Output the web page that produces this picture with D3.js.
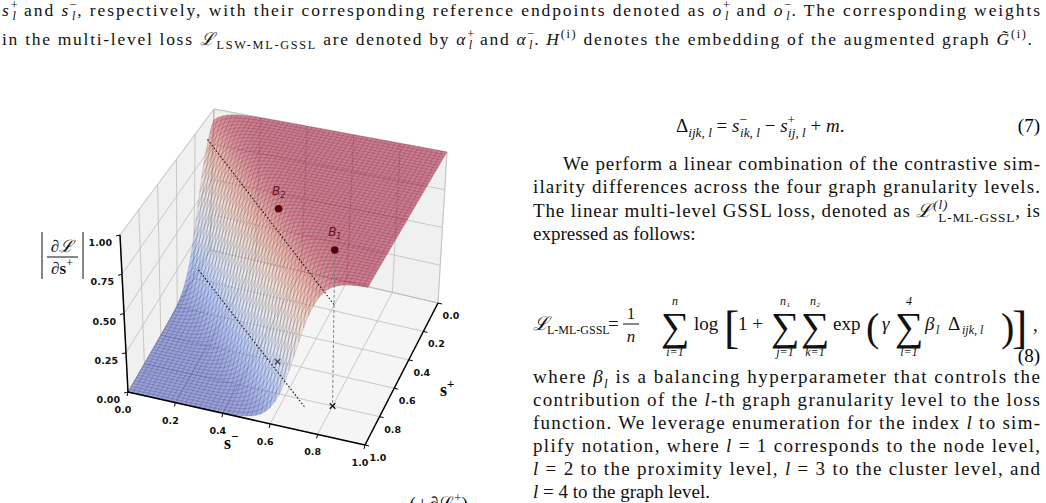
<!DOCTYPE html>
<html>
<head>
<meta charset="utf-8">
<script src="https://cdn.jsdelivr.net/npm/d3@7"></script>
<style>
body{margin:0;background:#fff;}
svg{display:block;}
.tick{font-family:"DejaVu Sans",sans-serif;font-weight:bold;font-size:9.5px;fill:#111;}
</style>
</head>
<body>
<svg id="page" width="1046" height="503"></svg>
<script>
var SERIF = "Liberation Serif, Times New Roman, serif";
// axis ticks
var sMinusTicks = [0, 0.2, 0.4, 0.6, 0.8, 1.0];
var sPlusTicks = [0, 0.2, 0.4, 0.6, 0.8, 1.0];
var zTicks = [0, 0.25, 0.5, 0.75, 1.0];
// surface: |dL/ds+| as sigmoid across the ridge
var gridN = 50;
var margin = 0.15, slope = 1.2, width = 0.06;
// marked points (s-, s+, value)
var pointNames = ["B1", "B2"];
var pointSm = [0.8, 0.5];
var pointSp = [0.8, 0.6];
var pointZ = [1.0, 1.0];
// dotted guide lines
var guideSm = [[0.06, 0.8], [0.0, 0.7]];
var guideSp = [[0.22, 0.8], [0.14, 0.85]];
var guideZ = [[1.0, 0.65], [0.0, 0.0]];

var svg = d3.select("#page");

// ---- 3d projection (floor + roof corners of the box) ----
var sx = d3.scaleLinear().domain([0, 1]).range([0, 1]);
var sy = d3.scaleLinear().domain([0, 1]).range([0, 1]);
var sz = d3.scaleLinear().domain([0, 1]).range([0, 1]);
var floorC = {B:[210,250], R:[438,303], L:[128,392], F:[365,445]};
var topC = {B:[214,109], R:[447,152], L:[120,235], F:[368,287]};
function proj(a, b, z){
  a = sx(a); b = sy(b); z = sz(z);
  var w = {B:(1-a)*(1-b), R:a*(1-b), L:(1-a)*b, F:a*b};
  var f = [0,0], t = [0,0];
  for (var k in w){ f[0]+=w[k]*floorC[k][0]; f[1]+=w[k]*floorC[k][1]; t[0]+=w[k]*topC[k][0]; t[1]+=w[k]*topC[k][1]; }
  return [f[0]+z*(t[0]-f[0]), f[1]+z*(t[1]-f[1])];
}
var line3 = d3.line();
function poly(pts){ return line3(pts.map(function(p){return proj(p[0],p[1],p[2]);})) + "Z"; }

var chart = svg.append("g");

// panes
chart.append("path").attr("d", poly([[0,0,0],[0,1,0],[0,1,1],[0,0,1]])).attr("fill","#f0f0f0").attr("stroke","#ddd");
chart.append("path").attr("d", poly([[0,0,0],[1,0,0],[1,0,1],[0,0,1]])).attr("fill","#f0f0f0").attr("stroke","#ddd");
chart.append("path").attr("d", poly([[0,0,0],[1,0,0],[1,1,0],[0,1,0]])).attr("fill","#f5f5f5").attr("stroke","#ddd");

// grid
var gridG = chart.append("g").attr("stroke","#bdbdbd").attr("stroke-width",0.8).attr("fill","none");
sMinusTicks.forEach(function(t){
  gridG.append("path").attr("d", line3([proj(t,0,0),proj(t,1,0)]));
  gridG.append("path").attr("d", line3([proj(t,0,0),proj(t,0,1)]));
});
sPlusTicks.forEach(function(t){
  gridG.append("path").attr("d", line3([proj(0,t,0),proj(1,t,0)]));
  gridG.append("path").attr("d", line3([proj(0,t,0),proj(0,t,1)]));
});
zTicks.forEach(function(t){
  gridG.append("path").attr("d", line3([proj(0,1,t),proj(0,0,t),proj(1,0,t)]));
});

// surface
function surf(a, b){ return 1/(1+Math.exp(-(slope*a - b + margin)/width)); }
var cool = d3.scaleLinear()
  .domain([0, 0.17, 0.34, 0.5, 0.66, 0.83, 1])
  .range(["#3b4cc0","#7b9ff9","#c0d4f5","#dddddd","#f2cbb7","#ee8468","#b40426"]);
var quads = [];
for (var i = 0; i < gridN; i++){
  for (var j = 0; j < gridN; j++){
    var a0 = i/gridN, a1 = (i+1)/gridN, b0 = j/gridN, b1 = (j+1)/gridN;
    var zs = [surf(a0,b0), surf(a1,b0), surf(a1,b1), surf(a0,b1)];
    var zm = d3.mean(zs);
    quads.push({pts:[[a0,b0,zs[0]],[a1,b0,zs[1]],[a1,b1,zs[2]],[a0,b1,zs[3]]], z:zm, key:(a0+a1+b0+b1)/2 + 0.6*zm});
  }
}
quads.sort(function(p, q){ return p.key - q.key; });
chart.append("g").selectAll("path").data(quads).join("path")
  .attr("d", function(d){ return poly(d.pts); })
  .attr("fill", function(d){ return cool(d.z); })
  .attr("fill-opacity", 0.5)
  .attr("stroke", "rgba(40,30,60,0.3)")
  .attr("stroke-width", 0.45);

// guides
guideSm.forEach(function(g, k){
  chart.append("path")
    .attr("d", line3([proj(g[0],guideSp[k][0],guideZ[k][0]), proj(g[1],guideSp[k][1],guideZ[k][1])]))
    .attr("stroke","#111").attr("stroke-width",1.1).attr("stroke-dasharray","1.5,2").attr("fill","none");
});
// points, drops and crosses
pointNames.forEach(function(n, k){
  var top = proj(pointSm[k], pointSp[k], pointZ[k]);
  var bot = proj(pointSm[k], pointSp[k], 0);
  if (k === 0) chart.append("path").attr("d", line3([top, bot]))
    .attr("stroke","#777").attr("stroke-width",0.9).attr("stroke-dasharray","3,2");
  chart.append("path").attr("d", d3.symbol(d3.symbolX, 22)())
    .attr("transform","translate("+bot+")").attr("stroke", k===0 ? "#111" : "#3a4466").attr("stroke-width",1.3);
  chart.append("circle").attr("cx",top[0]).attr("cy",top[1]).attr("r",3.8).attr("fill","#5a0008");
  var lab = chart.append("text").attr("x",top[0]).attr("y",top[1]-14).attr("text-anchor","middle")
    .attr("font-family","DejaVu Sans, sans-serif").attr("font-size",12).attr("font-style","italic").attr("fill","#6b1020");
  lab.append("tspan").text("B");
  lab.append("tspan").attr("font-size",8).attr("dy",3).text(n.slice(1));
});

// axes
var axG = chart.append("g").attr("stroke","#000").attr("stroke-width",1.5).attr("fill","none");
axG.append("path").attr("d", line3([proj(0,1,0),proj(0,1,1)]));
axG.append("path").attr("d", line3([proj(0,1,0),proj(1,1,0)]));
axG.append("path").attr("d", line3([proj(1,0,0),proj(1,1,0)]));
sMinusTicks.forEach(function(t){
  var p = proj(t,1,0);
  axG.append("path").attr("d", line3([p,[p[0]-1,p[1]+4]])).attr("stroke-width",1);
  chart.append("text").attr("class","tick").attr("x",p[0]-5).attr("y",p[1]+21).attr("text-anchor","middle").text(t.toFixed(1));
});
sPlusTicks.forEach(function(t){
  var p = proj(1,t,0);
  axG.append("path").attr("d", line3([p,[p[0]+4,p[1]+1]])).attr("stroke-width",1);
  chart.append("text").attr("class","tick").attr("x",p[0]+13).attr("y",p[1]+16).attr("text-anchor","middle").text(t.toFixed(1));
});
zTicks.forEach(function(t){
  var p = proj(0,1,t);
  axG.append("path").attr("d", line3([p,[p[0]-4,p[1]+1]])).attr("stroke-width",1);
  chart.append("text").attr("class","tick").attr("x",p[0]-8).attr("y",p[1]+11).attr("text-anchor","end").text(t.toFixed(2));
});
// axis labels
var sm = chart.append("text").attr("font-family",SERIF).attr("x",224).attr("y",449).attr("font-size",18).attr("font-weight","bold");
sm.append("tspan").text("s");
sm.append("tspan").attr("dy",-8).attr("font-size",13).text("\u2212");
var sp = chart.append("text").attr("font-family",SERIF).attr("x",440).attr("y",396).attr("font-size",18).attr("font-weight","bold");
sp.append("tspan").text("s");
sp.append("tspan").attr("dy",-8).attr("font-size",13).text("+");
var zl = chart.append("g").attr("font-family",SERIF).attr("fill","#111");
zl.append("text").attr("x",62).attr("y",252).attr("text-anchor","middle").attr("font-size",17).attr("font-style","italic").text("\u2202\u2112");
zl.append("line").attr("x1",47).attr("x2",78).attr("y1",257).attr("y2",257).attr("stroke","#111");
var zd = zl.append("text").attr("x",62).attr("y",274).attr("text-anchor","middle").attr("font-size",17);
zd.append("tspan").attr("font-style","italic").text("\u2202");
zd.append("tspan").attr("font-weight","bold").text("s");
zd.append("tspan").attr("dy",-7).attr("font-size",12).text("+");
zl.append("line").attr("x1",42).attr("x2",42).attr("y1",232).attr("y2",279).attr("stroke","#111");
zl.append("line").attr("x1",83).attr("x2",83).attr("y1",232).attr("y2",279).attr("stroke","#111");

// ---- page text ----
// segs: string, or {t, i:italic, sub, sup, back:dx}
function mathLine(x, y, segs, size, justifyTo){
  var t = svg.append("text").attr("font-family",SERIF).attr("fill","#111").attr("x",x).attr("y",y).attr("font-size",size);
  var level = 0;
  segs.forEach(function(s){
    if (typeof s === "string") s = {t:s};
    var target = s.sub ? size*0.25 : s.sup ? -size*0.4 : 0;
    var ts = t.append("tspan").text(s.t).attr("dy", target - level);
    if (s.back) ts.attr("dx", -s.back);
    if (s.i) ts.attr("font-style","italic");
    if (s.sub || s.sup) ts.attr("font-size", size*0.7);
    level = target;
  });
  if (justifyTo) t.attr("textLength", justifyTo - x).attr("lengthAdjust","spacing");
  return t;
}
var topSize = 17.5;
mathLine(2, 16, [{t:"s",i:1},{t:"+",sup:1},{t:"l",i:1,sub:1,back:7}," and ",{t:"s",i:1},{t:"\u2212",sup:1},{t:"l",i:1,sub:1,back:7},
  ", respectively, with their corresponding reference endpoints denoted as ",{t:"o",i:1},{t:"+",sup:1},{t:"l",i:1,sub:1,back:7},
  " and ",{t:"o",i:1},{t:"\u2212",sup:1},{t:"l",i:1,sub:1,back:7},". The corresponding weights"], topSize, 1040);
mathLine(2, 45, ["in the multi-level loss ",{t:"\u2112",i:1},{t:"LSW-ML-GSSL",sub:1}," are denoted by ",{t:"\u03b1",i:1},{t:"+",sup:1},{t:"l",i:1,sub:1,back:7},
  " and ",{t:"\u03b1",i:1},{t:"\u2212",sup:1},{t:"l",i:1,sub:1,back:7},". ",{t:"H",i:1},{t:"(i)",sup:1}," denotes the embedding of the augmented graph ",
  {t:"G\u0303",i:1},{t:"(i)",sup:1},"."], topSize, 1032);

var fs = 19;
mathLine(676, 132, [{t:"\u0394"},{t:"ijk, l",i:1,sub:1}," = ",{t:"s",i:1},{t:"\u2212",sup:1},{t:"ik, l",i:1,sub:1,back:7}," \u2212 ",
  {t:"s",i:1},{t:"+",sup:1},{t:"ij, l",i:1,sub:1,back:7}," + ",{t:"m",i:1},"."], fs);
svg.append("text").attr("font-family",SERIF).attr("x",1040).attr("y",132).attr("text-anchor","end").attr("font-size",fs).text("(7)");
mathLine(563, 170, ["We perform a linear combination of the contrastive sim-"], fs, 1040);
mathLine(533, 193, ["ilarity differences across the four graph granularity levels."], fs, 1040);
mathLine(533, 217, ["The linear multi-level GSSL loss, denoted as ",{t:"\u2112",i:1},{t:"(l)",i:1,sup:1},{t:"L-ML-GSSL",sub:1,back:10},", is"], fs, 1040);
mathLine(533, 240, ["expressed as follows:"], fs);

// eq 8
var eq = svg.append("g").attr("font-family",SERIF).attr("fill","#111");
function tx(x, y, s, size, opts){
  var t = eq.append("text").attr("x",x).attr("y",y).attr("font-size",size).text(s);
  if (opts && opts.i) t.attr("font-style","italic");
  if (opts && opts.mid) t.attr("text-anchor","middle");
  return t;
}
tx(533, 330, "\u2112", fs, {i:1}); tx(547, 334, "L-ML-GSSL", 12);
tx(608, 330, "=", fs);
tx(631, 319, "1", 16, {mid:1}); eq.append("line").attr("x1",623).attr("x2",639).attr("y1",324).attr("y2",324).attr("stroke","#111");
tx(631, 342, "n", 17, {i:1, mid:1});
[[675,"n","i=1"],[785,"n\u2081","j=1"],[815,"n\u2082","k=1"],[909,"4","l=1"]].forEach(function(s){
  tx(s[0], 340, "\u2211", 40, {mid:1}); tx(s[0], 305, s[1], 12, {i:1, mid:1}); tx(s[0], 356, s[2], 12, {i:1, mid:1});
});
tx(694, 330, "log", fs);
tx(724, 343, "[", 46);
tx(738, 330, "1 +", fs);
tx(833, 330, "exp", fs);
tx(866, 341, "(", 40);
tx(882, 330, "\u03b3", fs, {i:1});
tx(925, 330, "\u03b2", fs, {i:1}); tx(936, 334, "l", 12, {i:1});
tx(948, 330, "\u0394", fs); tx(962, 334, "ijk, l", 12, {i:1});
tx(1001, 341, ")", 40);
tx(1012, 343, "]", 46);
tx(1033, 331, ",", fs);
svg.append("text").attr("font-family",SERIF).attr("x",1040).attr("y",362).attr("text-anchor","end").attr("font-size",fs).text("(8)");

mathLine(533, 383, ["where ",{t:"\u03b2",i:1},{t:"l",i:1,sub:1}," is a balancing hyperparameter that controls the"], fs, 1040);
mathLine(533, 406, ["contribution of the ",{t:"l",i:1},"-th graph granularity level to the loss"], fs, 1040);
mathLine(533, 429, ["function. We leverage enumeration for the index ",{t:"l",i:1}," to sim-"], fs, 1040);
mathLine(533, 452, ["plify notation, where ",{t:"l",i:1}," = 1 corresponds to the node level,"], fs, 1040);
mathLine(533, 475, [{t:"l",i:1}," = 2 to the proximity level, ",{t:"l",i:1}," = 3 to the cluster level, and"], fs, 1040);
mathLine(533, 498, [{t:"l",i:1}," = 4 to the graph level."], fs);
mathLine(400, 510, [{t:"\u00b7",i:1}," (",{t:"+",i:1},"\u2202\u2112",{t:"+",sup:1},")"], fs);
</script>
</body>
</html>
